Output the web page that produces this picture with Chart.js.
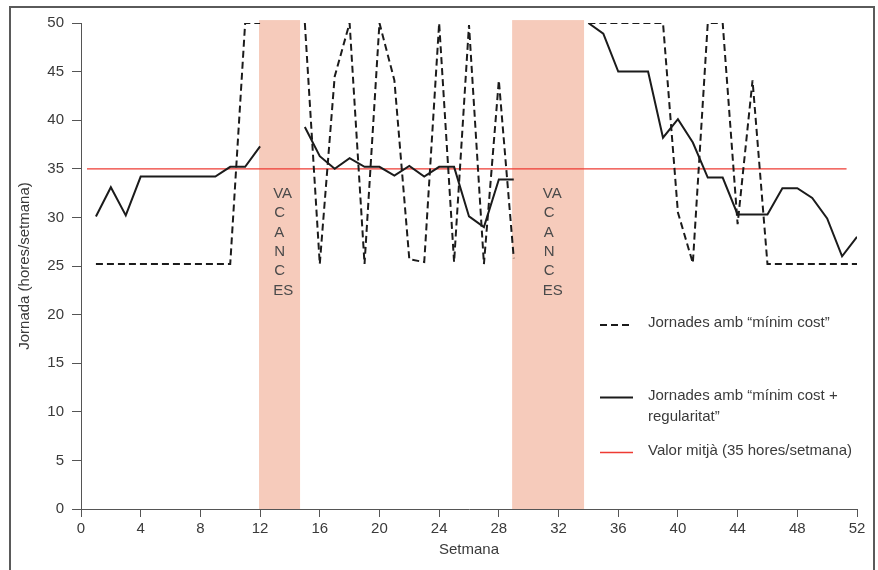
<!DOCTYPE html>
<html>
<head>
<meta charset="utf-8">
<script src="https://cdn.jsdelivr.net/npm/chart.js@4.4.1/dist/chart.umd.min.js"></script>
<style>
  html, body { margin: 0; padding: 0; background: #fff; }
  #wrap { position: relative; width: 878px; height: 570px; overflow: hidden; }
  #frame { position: absolute; left: 9px; top: 6px; width: 866px; height: 600px; border: 2px solid #5a5a5a; box-sizing: border-box; pointer-events: none; }
</style>
</head>
<body>
<div id="wrap">
  <canvas id="jornadaChart" width="878" height="570"></canvas>
  <div id="frame"></div>
</div>
<script>
// Setmanes 1..52
const weeks = [1,2,3,4,5,6,7,8,9,10,11,12,13,14,15,16,17,18,19,20,21,22,23,24,25,26,
  27,28,29,30,31,32,33,34,35,36,37,38,39,40,41,42,43,44,45,46,47,48,49,50,51,52];

// Jornades amb "mínim cost" (hores/setmana)
const minCost = [25.2,25.2,25.2,25.2,25.2,25.2,25.2,25.2,25.2,25.2,50,50,null,null,
  50,25.2,44.5,50,25.2,50,44.1,25.7,25.4,50,25.4,49.8,25.2,44.1,25.8,null,null,null,null,
  50,50,50,50,50,50,30.5,25.3,50,50,29.3,44.1,25.2,25.2,25.2,25.2,25.2,25.2,25.2];

// Jornades amb "mínim cost + regularitat"
const minCostReg = [30.1,33.1,30.2,34.2,34.2,34.2,34.2,34.2,34.2,35.2,35.2,37.3,null,null,
  39.3,36.3,35.0,36.1,35.2,35.2,34.3,35.3,34.2,35.2,35.2,30.1,29.0,33.9,33.9,null,null,null,null,
  50,48.9,45.0,45.0,45.0,38.2,40.1,37.7,34.1,34.1,30.3,30.3,30.3,33.0,33.0,32.0,29.9,26.0,28.0];

// Valor mitjà
const avgValue = 35;
const avgSpan = [0.4, 51.3];

// Vacances
const vacStart = [11.93, 28.89];
const vacEnd = [14.68, 33.71];
const vacTop = 50.3;
const vacLabelX = [12.88, 30.95];
const vacLabelY = 32.45;
const vacLabel = ['VA', 'C', 'A', 'N', 'C', 'ES'];

const legendLabels = [
  ['Jornades amb “mínim cost”'],
  ['Jornades amb “mínim cost +', 'regularitat”'],
  ['Valor mitjà (35 hores/setmana)']
];

const FONT = '"Liberation Sans", Arial, sans-serif';
const TEXT = '#3a3a3a';
const AXIS = '#555';

const vacances = {
  id: 'vacances',
  beforeDatasetsDraw(chart) {
    const {ctx, scales: {x, y}} = chart;
    ctx.save();
    for (let i = 0; i < vacStart.length; i++) {
      const x1 = x.getPixelForValue(vacStart[i]);
      const x2 = x.getPixelForValue(vacEnd[i]);
      const y1 = y.getPixelForValue(vacTop);
      const y2 = y.getPixelForValue(0);
      ctx.fillStyle = '#f6cbbb';
      ctx.fillRect(x1, y1, x2 - x1, y2 - y1);
      ctx.fillStyle = '#4a4a4a';
      ctx.font = '15px ' + FONT;
      ctx.textAlign = 'left';
      ctx.textBaseline = 'middle';
      const tx = x.getPixelForValue(vacLabelX[i]);
      const ty = y.getPixelForValue(vacLabelY);
      vacLabel.forEach((t, j) => {
        ctx.fillText(t, t.length === 1 ? tx + 1 : tx, ty + j * 19.4);
      });
    }
    ctx.restore();
  }
};

const llegenda = {
  id: 'llegenda',
  afterDraw(chart) {
    const ctx = chart.ctx;
    const rows = [325, 397.5, 452.5];
    const styles = [
      {color: '#1b1b1b', width: 2, dash: [7, 4]},
      {color: '#1b1b1b', width: 2, dash: []},
      {color: '#ee3b33', width: 1.3, dash: []}
    ];
    ctx.save();
    rows.forEach((ry, i) => {
      ctx.strokeStyle = styles[i].color;
      ctx.lineWidth = styles[i].width;
      ctx.setLineDash(styles[i].dash);
      ctx.beginPath();
      ctx.moveTo(600, ry);
      ctx.lineTo(633, ry);
      ctx.stroke();
      ctx.setLineDash([]);
      ctx.fillStyle = TEXT;
      ctx.font = '15px ' + FONT;
      ctx.textAlign = 'left';
      ctx.textBaseline = 'middle';
      legendLabels[i].forEach((t, j) => ctx.fillText(t, 648, ry - 2 + j * 21));
    });
    ctx.restore();
  }
};

const ctx = document.getElementById('jornadaChart');
new Chart(ctx, {
  type: 'line',
  data: {
    datasets: [
      {
        label: legendLabels[0][0],
        data: weeks.map((w, i) => ({x: w, y: minCost[i]})),
        borderColor: '#1b1b1b',
        borderWidth: 2,
        borderDash: [7, 4],
        pointRadius: 0,
        tension: 0
      },
      {
        label: legendLabels[1].join(' '),
        data: weeks.map((w, i) => ({x: w, y: minCostReg[i]})),
        borderColor: '#1b1b1b',
        borderWidth: 2,
        pointRadius: 0,
        tension: 0
      },
      {
        label: legendLabels[2][0],
        data: avgSpan.map(v => ({x: v, y: avgValue})),
        borderColor: '#ee3b33',
        borderWidth: 1.3,
        pointRadius: 0
      }
    ]
  },
  options: {
    responsive: false,
    animation: false,
    layout: {padding: {left: 0, right: 21, top: 23, bottom: 0}},
    plugins: {
      legend: {display: false},
      tooltip: {enabled: false}
    },
    scales: {
      x: {
        type: 'linear',
        min: 0,
        max: 52,
        ticks: {stepSize: 4, color: TEXT, font: {family: FONT, size: 15}, padding: 3},
        grid: {drawOnChartArea: false, tickLength: 8, color: AXIS},
        border: {color: AXIS, width: 1},
        title: {display: true, text: 'Setmana', color: TEXT, font: {family: FONT, size: 15}, padding: {bottom: 11}},
        afterFit: s => { s.height = 61; }
      },
      y: {
        min: 0,
        max: 50,
        ticks: {stepSize: 5, color: TEXT, font: {family: FONT, size: 15}, padding: 8},
        grid: {drawOnChartArea: false, tickLength: 9, color: AXIS},
        border: {color: AXIS, width: 1},
        title: {display: true, text: 'Jornada (hores/setmana)', color: TEXT, font: {family: FONT, size: 15}, padding: {top: 16}},
        afterFit: s => { s.width = 81; }
      }
    }
  },
  plugins: [vacances, llegenda]
});
</script>
</body>
</html>
